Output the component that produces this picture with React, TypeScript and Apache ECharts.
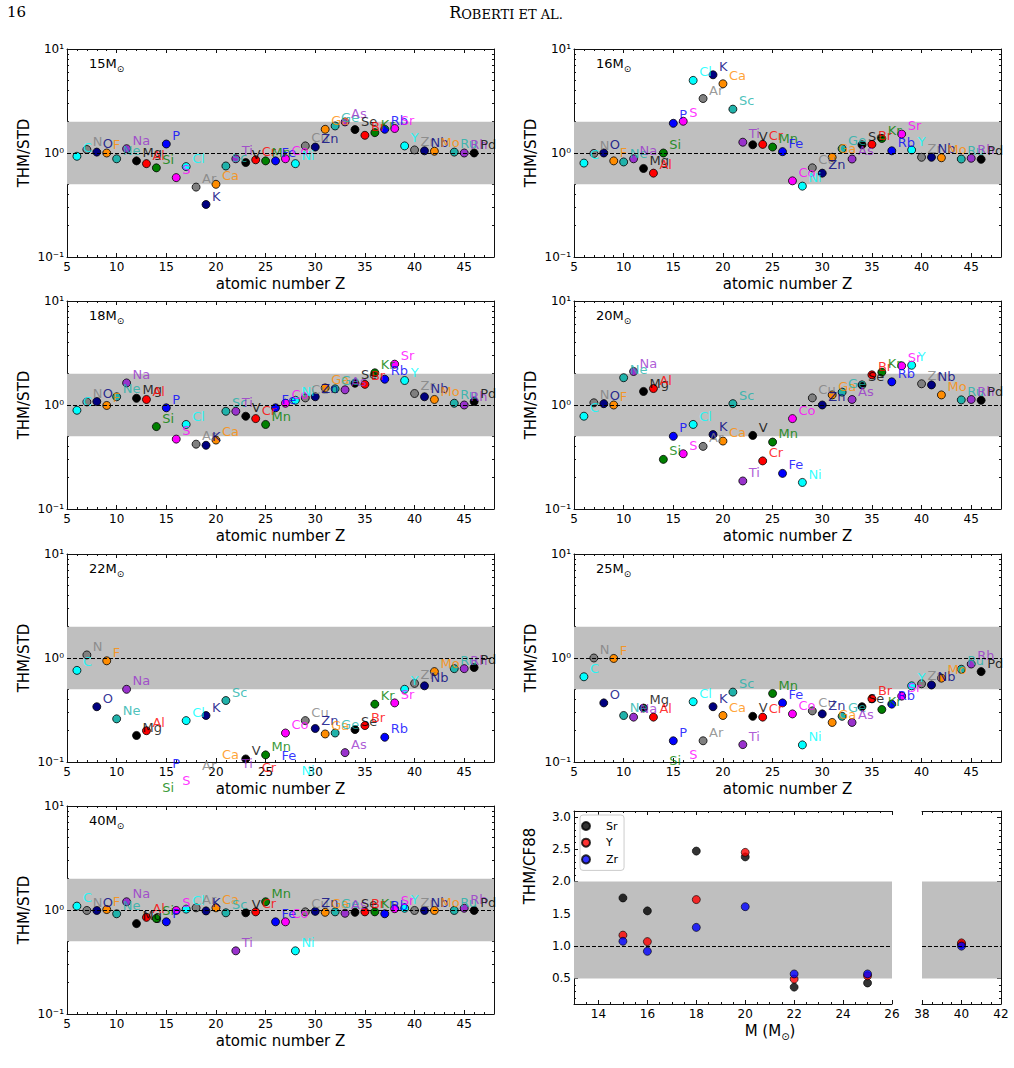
import React, { useEffect, useRef } from "react";
import * as echarts from "echarts";

// ---------------- data ----------------
const ELEMENTS = ["C","N","O","F","Ne","Na","Mg","Al","Si","P","S","Cl","Ar","K","Ca","Sc","Ti","V","Cr","Mn","Fe","Co","Ni","Cu","Zn","Ga","Ge","As","Se","Br","Kr","Rb","Sr","Y","Zr","Nb","Mo","Ru","Rh","Pd"];
const ATOMIC_NUMBERS = [6,7,8,9,10,11,12,13,14,15,16,17,18,19,20,21,22,23,24,25,26,27,28,29,30,31,32,33,34,35,36,37,38,39,40,41,42,44,45,46];

const PANEL_MASSES = ["15", "16", "18", "20", "22", "25", "40"];

const M15 = [0.93,1.08,1.02,1.00,0.88, 1.10,0.84,0.79,0.72,1.22, 0.58,0.74,0.47,0.32,0.50, 0.75,0.88,0.81,0.86,0.84, 0.84,0.88,0.79,1.17,1.14, 1.69,1.82,1.99,1.68,1.48, 1.57,1.69,1.72,1.17,1.07, 1.05,1.04,1.02,1.00,1.00];
const M16 = [0.80,0.99,1.00,0.84,0.82, 0.88,0.71,0.64,1.00,1.93, 2.02,4.99,3.34,5.65,4.63, 2.64,1.27,1.20,1.21,1.14, 1.03,0.54,0.48,0.72,0.64, 0.91,1.10,0.875,1.20,1.21, 1.38,1.05,1.52,1.07,0.91, 0.91,0.90,0.875,0.89,0.87];
const M18 = [0.89,1.07,1.08,0.99,1.20, 1.63,1.16,1.13,0.62,0.94, 0.47,0.65,0.42,0.41,0.46, 0.87,0.87,0.78,0.74,0.65, 0.94,1.04,1.11,1.17,1.20, 1.46,1.43,1.40,1.62,1.58, 2.04,1.77,2.47,1.72,1.29, 1.20,1.13,1.04,1.00,1.08];
const M20 = [0.78,1.05,1.03,1.00,1.83, 2.10,1.35,1.44,0.30,0.50, 0.34,0.65,0.40,0.52,0.45, 1.03,0.186,0.51,0.29,0.44, 0.22,0.74,0.18,1.17,1.00, 1.25,1.33,1.13,1.56,1.95, 2.07,1.67,2.38,2.41,1.60, 1.56,1.25,1.12,1.13,1.11];
const M22 = [0.76,1.07,0.34,0.94,0.26, 0.50,0.18,0.20,0.047,0.081, 0.055,0.25,0.077,0.28,0.098, 0.39,0.081,0.107,0.074,0.117, 0.096,0.19,0.069,0.25,0.21, 0.186,0.19,0.123,0.205,0.224, 0.36,0.173,0.37,0.50,0.57, 0.54,0.74,0.79,0.79,0.81];
const M25 = [0.66,1.00,0.37,0.99,0.28, 0.27,0.33,0.27,0.086,0.16, 0.099,0.38,0.16,0.34,0.28, 0.47,0.147,0.275,0.27,0.456, 0.37,0.29,0.146,0.31,0.29, 0.24,0.275,0.24,0.34,0.405, 0.32,0.36,0.43,0.54,0.565, 0.55,0.64,0.78,0.875,0.74];
const M40 = [1.09,0.99,0.99,1.01,0.92, 1.20,0.74,0.85,0.83,0.77, 0.99,1.02,1.05,0.98,1.05, 0.94,0.405,0.94,0.96,1.20, 0.77,0.77,0.405,0.96,0.97, 0.95,0.96,0.93,0.95,0.96, 0.96,0.92,1.03,1.04,0.99, 0.99,0.99,0.99,1.04,0.99];

const X_TICKS = [5, 10, 15, 20, 25, 30, 35, 40, 45];
const Y_TICKS = [0.1, 1, 10];
const Y_TICK_TEXT: Record<string, string> = { "-1": "10\u207B\u00B9", "0": "10\u2070", "1": "10\u00B9" };

const CF_MASSES = [15, 16, 18, 20, 22, 25, 40];
const CF_SR = [1.745, 1.545, 2.47, 2.38, 0.366, 0.43, 1.03];
const CF_Y = [1.17, 1.07, 1.72, 2.45, 0.49, 0.54, 1.05];
const CF_ZR = [1.075, 0.92, 1.29, 1.61, 0.57, 0.57, 1.0];
const CF_X_TICKS_A = [14, 16, 18, 20, 22, 24, 26];
const CF_X_TICKS_B = [38, 40, 42];
const CF_Y_TICKS = [0.5, 1.0, 1.5, 2.0, 2.5, 3.0];

// ---------------- styles ----------------
const PALETTE = ["#00ffff", "#808080", "#000080", "#ff8c00", "#20b2aa", "#9932cc", "#000000", "#ff0000", "#008000", "#0000ff", "#ff00ff"];
const FONT = "'DejaVu Sans', sans-serif";
const SERIF = "'DejaVu Serif', serif";
const LINE = { color: "#111", width: 1 };
const BAND = "#bfbfbf";

function range(a: number, b: number, step: number): number[] {
  const out: number[] = [];
  for (let v = a; v <= b + 1e-9; v += step) out.push(Math.round(v * 1000) / 1000);
  return out;
}
const LOG_MINORS = [0.2, 0.3, 0.4, 0.5, 0.6, 0.7, 0.8, 0.9, 2, 3, 4, 5, 6, 7, 8, 9];

function axisPair(
  kind: "x" | "y",
  type: "value" | "log",
  gridIndex: number,
  position: string,
  min: number,
  max: number,
  majors: number[],
  minors: number[],
  showLabels: boolean,
  formatter: any,
  extra: any = {}
) {
  const base: any = { type, gridIndex, position, min, max, splitLine: { show: false } };
  if (type === "log") base.logBase = 10;
  const major = {
    ...base,
    axisLine: { show: true, onZero: false, lineStyle: LINE },
    axisTick: { show: true, inside: true, length: 4, lineStyle: LINE, customValues: majors },
    axisLabel: showLabels
      ? { show: true, customValues: majors, formatter, fontSize: 12, color: "#000", fontFamily: FONT, margin: kind === "x" ? 4 : 3 }
      : { show: false },
    ...extra,
  };
  const minor = {
    ...base,
    axisLine: { show: false, onZero: false },
    axisTick: { show: true, inside: true, length: 2, lineStyle: LINE, customValues: minors },
    axisLabel: { show: false },
  };
  return [major, minor];
}

function buildOption() {
  const grid: any[] = [];
  const xAxis: any[] = [];
  const yAxis: any[] = [];
  const series: any[] = [];
  const graphic: any[] = [];

  const panels = [M15, M16, M18, M20, M22, M25, M40];
  const COLS = [67, 574];
  const ROWS = [49, 301, 554, 806];
  const W = 427;
  const H = 208;

  graphic.push({
    type: "text", x: 7, y: 12,
    style: { text: "16", fontFamily: SERIF, fontSize: 15, fill: "#000", verticalAlign: "middle" },
  });
  graphic.push({
    type: "text", x: 506, y: 12,
    style: {
      text: "{a|R}{b|OBERTI ET AL.}", align: "center", verticalAlign: "middle", fill: "#000",
      rich: {
        a: { fontFamily: SERIF, fontSize: 16, lineHeight: 17, verticalAlign: "bottom", fill: "#000" },
        b: { fontFamily: SERIF, fontSize: 13, lineHeight: 17, verticalAlign: "bottom", fill: "#000" },
      },
    },
  });

  panels.forEach((vals, i) => {
    const left = COLS[i % 2];
    const top = ROWS[Math.floor(i / 2)];
    grid.push({ left, top, width: W, height: H, outerBoundsMode: "none" });
    const gi = grid.length - 1;
    const xb = xAxis.length;
    const minorX = range(5, 48, 1);
    xAxis.push(
      ...axisPair("x", "value", gi, "bottom", 5, 48, X_TICKS, minorX, true, (v: number) => String(v), {
        name: "atomic number Z", nameLocation: "middle", nameGap: 19,
        nameTextStyle: { fontSize: 15, color: "#000", fontFamily: FONT },
      }),
      ...axisPair("x", "value", gi, "top", 5, 48, X_TICKS, minorX, false, null)
    );
    const yb = yAxis.length;
    const yFmt = (v: number) => Y_TICK_TEXT[String(Math.round(Math.log10(v)))] || "";
    yAxis.push(
      ...axisPair("y", "log", gi, "left", 0.1, 10, Y_TICKS, LOG_MINORS, true, yFmt, {
        name: "THM/STD", nameLocation: "middle", nameGap: 36,
        nameTextStyle: { fontSize: 15, color: "#000", fontFamily: FONT },
      }),
      ...axisPair("y", "log", gi, "right", 0.1, 10, Y_TICKS, LOG_MINORS, false, null)
    );

    const markers = ELEMENTS.map((el, k) => ({
      name: el,
      value: [ATOMIC_NUMBERS[k], vals[k]],
      itemStyle: { color: PALETTE[k % PALETTE.length] },
    }));
    const labels = ELEMENTS.map((el, k) => ({
      name: el,
      value: [ATOMIC_NUMBERS[k], vals[k]],
      label: { color: PALETTE[k % PALETTE.length] },
    }));

    series.push({
      type: "scatter",
      name: "panel" + PANEL_MASSES[i],
      xAxisIndex: xb,
      yAxisIndex: yb,
      data: markers,
      symbol: "circle",
      symbolSize: 8,
      clip: true,
      z: 3,
      itemStyle: { borderColor: "#000", borderWidth: 0.8, opacity: 1 },
      emphasis: { disabled: true },
      markArea: {
        silent: true,
        itemStyle: { color: BAND, opacity: 1 },
        data: [[{ yAxis: 0.5 }, { yAxis: 2 }]],
      },
      markLine: {
        silent: true,
        symbol: ["none", "none"],
        label: { show: false },
        lineStyle: { color: "#000", width: 1, type: [4, 2] },
        data: [{ yAxis: 1 }],
      },
    });
    series.push({
      type: "scatter",
      name: "labels" + PANEL_MASSES[i],
      xAxisIndex: xb,
      yAxisIndex: yb,
      data: labels,
      symbol: "circle",
      symbolSize: 8,
      clip: false,
      silent: true,
      z: 4,
      itemStyle: { color: "rgba(0,0,0,0)", borderWidth: 0 },
      emphasis: { disabled: true },
      label: {
        show: true,
        formatter: "{b}",
        position: [10, -4.4],
        align: "left",
        verticalAlign: "middle",
        fontSize: 13,
        fontFamily: FONT,
      },
    });

    graphic.push({
      type: "text",
      x: left + 22,
      y: top + 16,
      style: {
        text: "{b|" + PANEL_MASSES[i] + "M}{s|\u2299}",
        verticalAlign: "middle",
        fill: "#000",
        rich: {
          b: { fontSize: 13, lineHeight: 16, verticalAlign: "top", fontFamily: FONT, fill: "#000" },
          s: { fontSize: 9, lineHeight: 9, verticalAlign: "bottom", fontFamily: FONT, fill: "#000" },
        },
      },
    });
  });

  // ---------- last panel: broken x axis ----------
  const topL = 811;
  const hL = 193;
  grid.push({ left: 574, top: topL, width: 318, height: hL, outerBoundsMode: "none" });
  const gA = grid.length - 1;
  grid.push({ left: 922, top: topL, width: 79, height: hL, outerBoundsMode: "none" });
  const gB = grid.length - 1;
  const yMin = 0.105;
  const yMax = 3.09;
  const cfMinorY = range(0.2, 3.0, 0.1);

  const xA = xAxis.length;
  xAxis.push(
    ...axisPair("x", "value", gA, "bottom", 13, 26, CF_X_TICKS_A, range(13, 26, 0.5), true, (v: number) => String(v)),
    ...axisPair("x", "value", gA, "top", 13, 26, CF_X_TICKS_A, range(13, 26, 0.5), false, null)
  );
  const xB = xAxis.length;
  xAxis.push(
    ...axisPair("x", "value", gB, "bottom", 38, 42, CF_X_TICKS_B, range(38, 42, 0.5), true, (v: number) => String(v)),
    ...axisPair("x", "value", gB, "top", 38, 42, CF_X_TICKS_B, range(38, 42, 0.5), false, null)
  );
  const yA = yAxis.length;
  yAxis.push(
    ...axisPair("y", "value", gA, "left", yMin, yMax, CF_Y_TICKS, cfMinorY, true, (v: number) => v.toFixed(1))
  );
  const yB = yAxis.length;
  yAxis.push(...axisPair("y", "value", gB, "right", yMin, yMax, CF_Y_TICKS, cfMinorY, false, null));

  graphic.push({
    type: "text",
    x: 530,
    y: 866,
    rotation: Math.PI / 2,
    style: {
      text: "THM/CF88", align: "center", verticalAlign: "middle",
      fontSize: 15, fontFamily: FONT, fill: "#000",
    },
  });

  const cfSets = [
    { name: "Sr", vals: CF_SR, color: "#000000" },
    { name: "Y", vals: CF_Y, color: "#ff0000" },
    { name: "Zr", vals: CF_ZR, color: "#0000ff" },
  ];
  const bandMark = (first: boolean) =>
    first
      ? {
          markArea: { silent: true, itemStyle: { color: BAND, opacity: 1 }, data: [[{ yAxis: 0.5 }, { yAxis: 2 }]] },
          markLine: {
            silent: true, symbol: ["none", "none"], label: { show: false },
            lineStyle: { color: "#000", width: 1, type: [4, 2] }, data: [{ yAxis: 1 }],
          },
        }
      : {};
  cfSets.forEach((s, k) => {
    const common = {
      type: "scatter",
      name: s.name,
      symbol: "circle",
      symbolSize: 8,
      itemStyle: { color: s.color, borderColor: "#000", borderWidth: 0.8 },
      emphasis: { disabled: true },
      z: 3,
    };
    series.push({
      ...common,
      xAxisIndex: xA,
      yAxisIndex: yA,
      data: CF_MASSES.map((m, j) => [m, s.vals[j]]).filter((d) => d[0] <= 26),
      ...bandMark(k === 0),
    });
    series.push({
      ...common,
      xAxisIndex: xB,
      yAxisIndex: yB,
      data: CF_MASSES.map((m, j) => [m, s.vals[j]]).filter((d) => d[0] >= 38),
      ...bandMark(k === 0),
    });
  });

  graphic.push({
    type: "text",
    x: 770,
    y: 1032,
    style: {
      text: "{b|M (M}{s|\u2299}{b|)}",
      align: "center",
      verticalAlign: "middle",
      fill: "#000",
      rich: {
        b: { fontSize: 15, lineHeight: 18, verticalAlign: "top", fontFamily: FONT, fill: "#000" },
        s: { fontSize: 10, lineHeight: 10, verticalAlign: "bottom", fontFamily: FONT, fill: "#000" },
      },
    },
  });

  return {
    animation: false,
    backgroundColor: "#fff",
    textStyle: { fontFamily: FONT },
    grid,
    xAxis,
    yAxis,
    series,
    graphic,
    legend: {
      data: ["Sr", "Y", "Zr"],
      orient: "vertical",
      left: 580,
      top: 815,
      padding: [5, 6, 5, 1],
      itemWidth: 30,
      itemHeight: 8,
      itemGap: 4.7,
      selectedMode: false,
      icon: "circle",
      backgroundColor: "#fff",
      borderColor: "#cccccc",
      borderWidth: 1,
      borderRadius: 3,
      textStyle: { fontSize: 11, lineHeight: 12, color: "#000", fontFamily: FONT },
    },
  };
}

export default function App() {
  const ref = useRef<HTMLDivElement>(null);
  useEffect(() => {
    document.body.style.margin = "0";
    const chart = echarts.init(ref.current as HTMLDivElement, null, { renderer: "svg" });
    chart.setOption(buildOption() as any);
    return () => chart.dispose();
  }, []);
  return <div ref={ref} style={{ width: 1014, height: 1068 }} />;
}
